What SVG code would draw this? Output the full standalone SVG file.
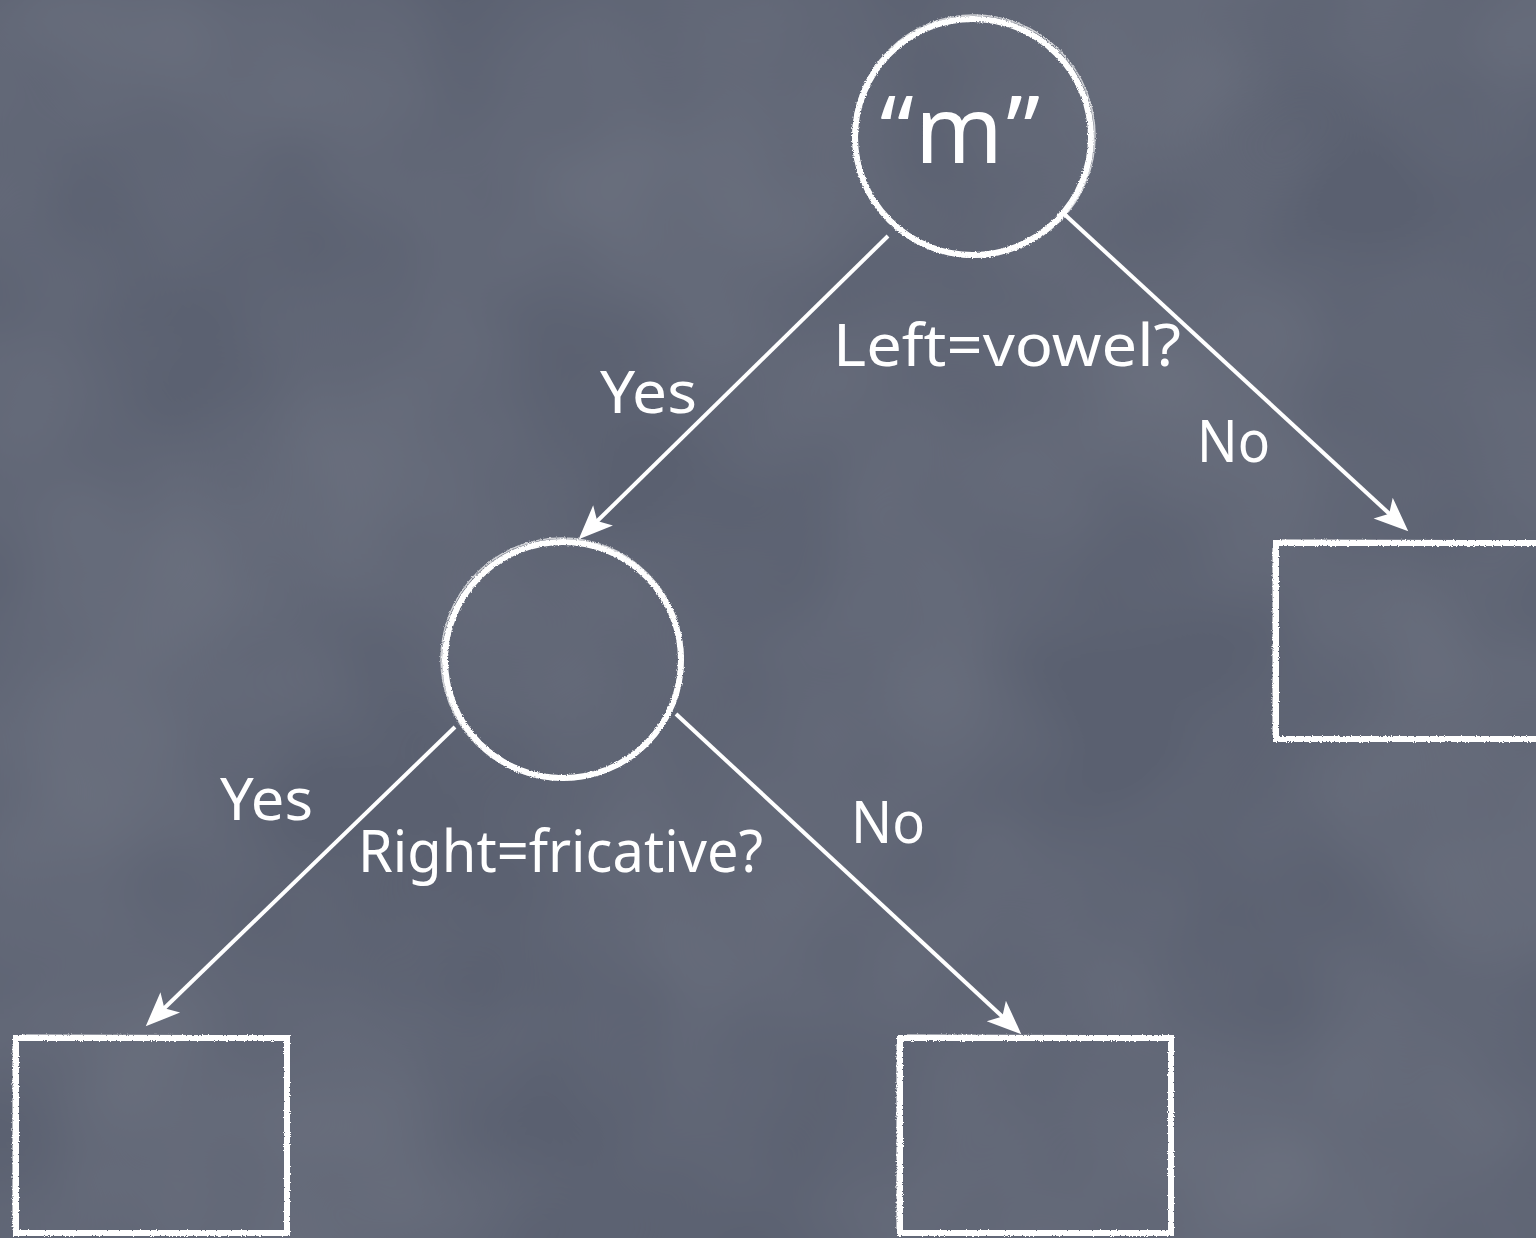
<svg xmlns="http://www.w3.org/2000/svg" width="1536" height="1238" viewBox="0 0 1536 1238">
  <style>
    .chalk { fill: none; stroke: #ffffff; stroke-width: 6; }
    .chalk2 { fill: none; stroke: #ffffff; stroke-width: 1.5; opacity: 0.7; }
    .edge { stroke: #ffffff; stroke-width: 4; fill: none; marker-end: url(#arrow); }
    .lbl { font-family: "Noto Sans", "Liberation Sans", sans-serif; fill: #ffffff; font-size: 58px; }
    .big { font-size: 94px; }
  </style>
  <defs>
    <marker id="arrow" markerUnits="userSpaceOnUse" markerWidth="40" markerHeight="40" viewBox="-22 -16 34 32" refX="0" refY="0" orient="auto">
      <path d="M10,0 L-19,-12 L-12,0 L-19,12 Z" fill="#ffffff"/>
    </marker>
    <filter id="rough" x="-5%" y="-5%" width="110%" height="110%">
      <feTurbulence type="fractalNoise" baseFrequency="0.8" numOctaves="2" seed="3" result="n"/>
      <feDisplacementMap in="SourceGraphic" in2="n" scale="3" xChannelSelector="R" yChannelSelector="G"/>
    </filter>
    <filter id="board" x="0" y="0" width="100%" height="100%">
      <feTurbulence type="fractalNoise" baseFrequency="0.003" numOctaves="3" seed="7" result="t"/>
      <feColorMatrix in="t" type="matrix" values="0 0 0 0 1  0 0 0 0 1  0 0 0 0 1  0.18 0 0 0 -0.05"/>
    </filter>
  </defs>

  <rect x="0" y="0" width="1536" height="1238" fill="#5a6070"/>
  <rect x="0" y="0" width="1536" height="1238" filter="url(#board)"/>

  <g id="edges">
    <path class="edge" d="M888,236 L587.1,531"/>
    <path class="edge" d="M1062,212 L1399.6,523.2"/>
    <path class="edge" d="M455,727 L154.2,1018"/>
    <path class="edge" d="M676,714 L1012.7,1026.2"/>
  </g>

  <g id="node-m">
    <g filter="url(#rough)">
      <circle class="chalk" cx="973" cy="137" r="118"/>
      <circle class="chalk2" cx="974" cy="136" r="121"/>
    </g>
    <text class="lbl big" x="960" y="163" text-anchor="middle" textLength="160" lengthAdjust="spacing">“m”</text>
  </g>

  <g id="node-mid" filter="url(#rough)">
    <circle class="chalk" cx="563" cy="660" r="118"/>
    <circle class="chalk2" cx="562" cy="659" r="121"/>
  </g>

  <g id="leaf-right" filter="url(#rough)">
    <rect class="chalk" x="1276" y="543" width="280" height="196"/>
    <path class="chalk2" d="M1282,540 L1540,541 M1273,548 L1273,735"/>
  </g>

  <g id="leaf-left" filter="url(#rough)">
    <rect class="chalk" x="16" y="1038" width="271" height="195"/>
    <path class="chalk2" d="M22,1035 L290,1036 M13,1044 L13,1230"/>
  </g>

  <g id="leaf-mid" filter="url(#rough)">
    <rect class="chalk" x="900" y="1038" width="271" height="195"/>
    <path class="chalk2" d="M906,1035 L1174,1036 M897,1044 L897,1230"/>
  </g>

  <g id="labels">
    <text class="lbl" x="833" y="366" textLength="348" lengthAdjust="spacingAndGlyphs">Left=vowel?</text>
    <text class="lbl" x="600" y="413" textLength="97" lengthAdjust="spacingAndGlyphs">Yes</text>
    <text class="lbl" x="1197" y="462" textLength="73" lengthAdjust="spacingAndGlyphs">No</text>
    <text class="lbl" x="220" y="820" textLength="93" lengthAdjust="spacingAndGlyphs">Yes</text>
    <text class="lbl" x="358" y="872" textLength="405" lengthAdjust="spacingAndGlyphs">Right=fricative?</text>
    <text class="lbl" x="851" y="843" textLength="74" lengthAdjust="spacingAndGlyphs">No</text>
  </g>
</svg>
